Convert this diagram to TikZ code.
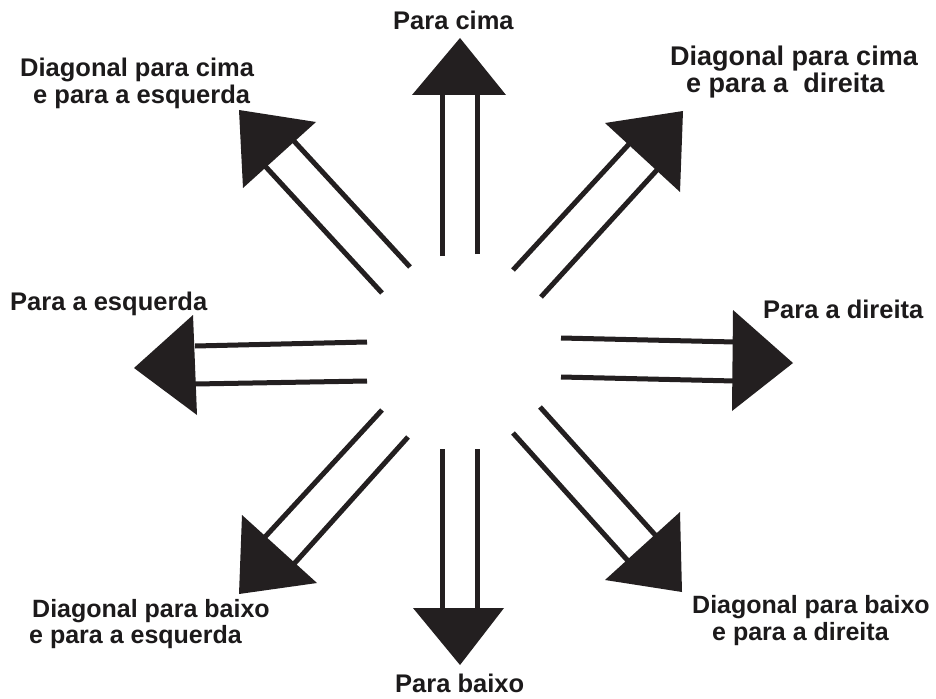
\documentclass[tikz,border=0pt]{standalone}
\usepackage{fontspec}
\setmainfont{Liberation Sans}
\begin{document}
\begin{tikzpicture}[x=1pt,y=-1pt,
  ink/.style={draw=arrowink,line width=5pt},
  head/.style={fill=arrowink,draw=none},
  lbl/.style={inner sep=0pt,anchor=base west,text=textink,font=\bfseries\fontsize{25.5}{27}\selectfont},
  smlbl/.style={lbl,font=\bfseries\fontsize{25}{27}\selectfont},
  biglbl/.style={lbl,font=\bfseries\fontsize{27}{29}\selectfont}]
\definecolor{arrowink}{RGB}{35,31,32}
\definecolor{textink}{RGB}{28,26,27}
\useasboundingbox[fill=white] (0,0) rectangle (936,698);
% up
\draw[ink] (442,256) -- (442,93);
\draw[ink] (477,254) -- (477,93);
\fill[head] (460,38) -- (412,95) -- (506,95) -- cycle;
% down
\draw[ink] (442,449) -- (442,610);
\draw[ink] (477,449) -- (477,610);
\fill[head] (413,608) -- (504,608) -- (460,665) -- cycle;
% left
\draw[ink] (367,342) -- (195,346);
\draw[ink] (367,381) -- (195,384);
\fill[head] (193,315) -- (134,368) -- (197,415) -- cycle;
% right
\draw[ink] (561,338) -- (735,342);
\draw[ink] (561,377) -- (735,381);
\fill[head] (733,310) -- (793,363) -- (732,411) -- cycle;
% up-right
\draw[ink] (513,270) -- (630,143);
\draw[ink] (541,297) -- (657,170);
\fill[head] (605,123) -- (683,111) -- (680,192) -- cycle;
% up-left
\draw[ink] (410,267) -- (293,140);
\draw[ink] (382,293) -- (265,166);
\fill[head] (239,110) -- (316,122) -- (243,188) -- cycle;
% down-left
\draw[ink] (382,410) -- (265,537);
\draw[ink] (408,437) -- (293,565);
\fill[head] (242,515) -- (317,583) -- (239,594) -- cycle;
% down-right
\draw[ink] (540,407) -- (657,537);
\draw[ink] (513,433) -- (629,562);
\fill[head] (680,512) -- (682,592) -- (605,580) -- cycle;
% labels
\node[lbl] (cima) at (393,30) {Para cima};
\node[lbl] (baixo) at (395,692) {Para baixo};
\node[lbl] (esq) at (10,310) {Para a esquerda};
\node[lbl] (dir) at (763,318) {Para a direita};
\node[lbl] (ul1) at (20,77) {Diagonal para cima};
\node[lbl] (ul2) at (33,103) {e para a esquerda};
\node[biglbl] (ur1) at (670,66) {Diagonal para cima};
\node[biglbl] (ur2) at (686,93) {e para a\ \ direita};
\node[smlbl] (dl1) at (32,617) {Diagonal para baixo};
\node[smlbl] (dl2) at (29,643) {e para a esquerda};
\node[smlbl] (dr1) at (692,613) {Diagonal para baixo};
\node[smlbl] (dr2) at (712,640) {e para a direita};
\end{tikzpicture}
\end{document}
